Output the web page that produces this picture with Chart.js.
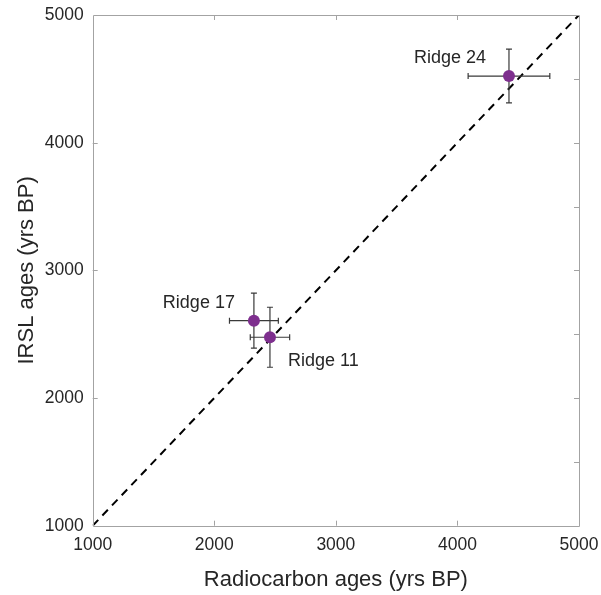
<!DOCTYPE html>
<html>
<head>
<meta charset="utf-8">
<title>IRSL vs radiocarbon ages</title>
<script src="https://cdn.jsdelivr.net/npm/chart.js@4.4.1/dist/chart.umd.min.js"></script>
<style>
  html, body { margin: 0; padding: 0; background: #ffffff; }
  #wrap { width: 601px; height: 595px; }
</style>
</head>
<body>
<div id="wrap"><canvas id="c" width="601" height="595"></canvas></div>
<script>
// Beach ridge samples dated by two methods
const sampleNames = ['Ridge 11', 'Ridge 17', 'Ridge 24'];
const radiocarbonAges = [2458, 2326, 4424];
const radiocarbonErr = [162, 201, 336];
const irslAges = [2476, 2606, 4522];
const irslErr = [235, 215, 210];

// 1:1 reference line
const oneToOneX = [1000, 5000];
const oneToOneY = [1000, 5000];

// Axis range and tick labels
const axisMin = 1000;
const axisMax = 5000;
const majorTicks = [1000, 2000, 3000, 4000, 5000];
const rightMinorTicks = [1500, 2000, 2500, 3000, 3500, 4000, 4500];

// label placement relative to each marker (px): [dx, dy, align]
const labelOffsets = [[18, 29, 'left'], [-19, -13, 'right'], [-23, -13, 'right']];

const FONT = '"Liberation Sans", Arial, Helvetica, sans-serif';
const TEXT = '#262626';
const FRAME = '#a3a3a3';
const PURPLE = '#7e2f8e';

const points = radiocarbonAges.map((x, i) => ({ x: x, y: irslAges[i] }));
const diagonal = oneToOneX.map((x, i) => ({ x: x, y: oneToOneY[i] }));

// Frame around the plot with inward ticks
const framePlugin = {
  id: 'frame',
  afterDraw(chart) {
    const { ctx, chartArea: a, scales: { x, y } } = chart;
    const L = 5;
    ctx.save();
    ctx.strokeStyle = FRAME;
    ctx.lineWidth = 1;
    ctx.beginPath();
    ctx.rect(Math.round(a.left) + 0.5, Math.round(a.top) + 0.5,
             Math.round(a.right - a.left), Math.round(a.bottom - a.top));
    ctx.stroke();
    ctx.beginPath();
    majorTicks.slice(1, -1).forEach(v => {
      const px = Math.round(x.getPixelForValue(v)) + 0.5;
      ctx.moveTo(px, a.bottom); ctx.lineTo(px, a.bottom - L);
      ctx.moveTo(px, a.top); ctx.lineTo(px, a.top + L);
      const py = Math.round(y.getPixelForValue(v)) + 0.5;
      ctx.moveTo(a.left, py); ctx.lineTo(a.left + L, py);
    });
    rightMinorTicks.forEach(v => {
      const py = Math.round(y.getPixelForValue(v)) + 0.5;
      ctx.moveTo(a.right, py); ctx.lineTo(a.right - L, py);
    });
    ctx.stroke();
    ctx.restore();
  }
};

// Horizontal and vertical error bars under the markers
const errorBarPlugin = {
  id: 'errorBars',
  beforeDatasetDraw(chart, args) {
    if (args.index !== 0) return;
    const { ctx, scales: { x, y } } = chart;
    const cap = 3;
    ctx.save();
    ctx.strokeStyle = '#3a3a3a';
    ctx.lineWidth = 1.2;
    ctx.beginPath();
    radiocarbonAges.forEach((xv, i) => {
      const yv = irslAges[i];
      const cx = x.getPixelForValue(xv), cy = y.getPixelForValue(yv);
      const x0 = x.getPixelForValue(xv - radiocarbonErr[i]);
      const x1 = x.getPixelForValue(xv + radiocarbonErr[i]);
      const y0 = y.getPixelForValue(yv - irslErr[i]);
      const y1 = y.getPixelForValue(yv + irslErr[i]);
      ctx.moveTo(x0, cy); ctx.lineTo(x1, cy);
      ctx.moveTo(x0, cy - cap); ctx.lineTo(x0, cy + cap);
      ctx.moveTo(x1, cy - cap); ctx.lineTo(x1, cy + cap);
      ctx.moveTo(cx, y0); ctx.lineTo(cx, y1);
      ctx.moveTo(cx - cap, y0); ctx.lineTo(cx + cap, y0);
      ctx.moveTo(cx - cap, y1); ctx.lineTo(cx + cap, y1);
    });
    ctx.stroke();
    ctx.restore();
  }
};

// Sample names next to the markers
const labelPlugin = {
  id: 'sampleLabels',
  afterDatasetsDraw(chart) {
    const { ctx, scales: { x, y } } = chart;
    ctx.save();
    ctx.fillStyle = TEXT;
    ctx.font = '18px ' + FONT;
    ctx.textBaseline = 'alphabetic';
    sampleNames.forEach((name, i) => {
      const [dx, dy, align] = labelOffsets[i];
      ctx.textAlign = align;
      ctx.fillText(name, x.getPixelForValue(radiocarbonAges[i]) + dx,
                   y.getPixelForValue(irslAges[i]) + dy);
    });
    ctx.restore();
  }
};

function plainTick(v) { return String(v); }
function noOverhang(s) {
  s.paddingLeft = 0; s.paddingRight = 0; s.paddingTop = 0; s.paddingBottom = 0;
}

new Chart(document.getElementById('c'), {
  type: 'scatter',
  data: {
    datasets: [
      {
        label: 'Samples',
        data: points,
        pointRadius: 6,
        pointHoverRadius: 6,
        pointBackgroundColor: PURPLE,
        pointBorderColor: PURPLE,
        pointBorderWidth: 0
      },
      {
        type: 'line',
        label: '1:1',
        data: diagonal,
        borderColor: '#000000',
        borderWidth: 2,
        borderDash: [8, 6],
        pointRadius: 0,
        fill: false
      }
    ]
  },
  options: {
    responsive: false,
    animation: false,
    devicePixelRatio: 1,
    layout: { padding: { left: 0, top: 15, right: 22, bottom: 0 } },
    plugins: { legend: { display: false }, tooltip: { enabled: false } },
    scales: {
      x: {
        type: 'linear',
        min: axisMin,
        max: axisMax,
        afterBuildTicks(s) { s.ticks = majorTicks.map(v => ({ value: v })); },
        afterFit(s) { s.height = 69.3; noOverhang(s); },
        grid: { display: false, drawTicks: false },
        border: { display: false },
        ticks: { color: TEXT, font: { family: FONT, size: 17.5 }, padding: 9, maxRotation: 0, callback: plainTick },
        title: {
          display: true,
          text: 'Radiocarbon ages (yrs BP)',
          color: TEXT,
          font: { family: FONT, size: 22 },
          padding: { top: 0, bottom: 2 }
        }
      },
      y: {
        type: 'linear',
        min: axisMin,
        max: axisMax,
        afterBuildTicks(s) { s.ticks = majorTicks.map(v => ({ value: v })); },
        afterFit(s) { s.width = 92.7; noOverhang(s); },
        grid: { display: false, drawTicks: false },
        border: { display: false },
        ticks: { color: TEXT, font: { family: FONT, size: 17.5 }, padding: 9, callback: plainTick },
        title: {
          display: true,
          text: 'IRSL ages (yrs BP)',
          color: TEXT,
          font: { family: FONT, size: 22 },
          padding: { top: 14, bottom: 0 }
        }
      }
    }
  },
  plugins: [errorBarPlugin, labelPlugin, framePlugin]
});
</script>
</body>
</html>
